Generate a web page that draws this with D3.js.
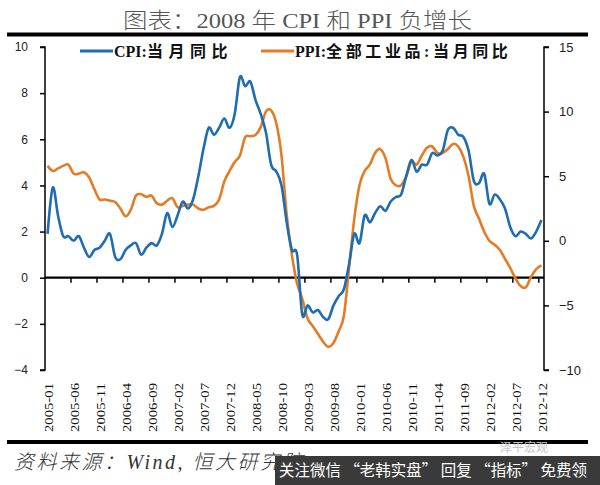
<!DOCTYPE html>
<html>
<head>
<meta charset="utf-8">
<script src="https://cdn.jsdelivr.net/npm/d3@7/dist/d3.min.js"></script>
<style>
  body { margin: 0; background: #fff; }
  svg { display: block; }
</style>
</head>
<body>
<svg width="600" height="485"></svg>
<script>
// categories: monthly 2005-01 .. 2012-12
var years = [2005, 2006, 2007, 2008, 2009, 2010, 2011, 2012];
var months = [];
years.forEach(function(y) {
    for (var m = 1; m <= 12; m++) months.push(y + '-' + (m < 10 ? '0' + m : m));
});

// CPI:当月同比 (left axis, %)
var cpi = [
    1.9, 3.9, 2.7, 1.8, 1.8, 1.6, 1.8, 1.3, 0.9, 1.2, 1.3, 1.6,
    1.9, 0.9, 0.8, 1.2, 1.4, 1.5, 1.0, 1.3, 1.5, 1.4, 1.9, 2.8,
    2.2, 2.7, 3.3, 3.0, 3.4, 4.4, 5.6, 6.5, 6.2, 6.5, 6.9, 6.5,
    7.1, 8.7, 8.3, 8.5, 7.7, 7.1, 6.3, 4.9, 4.6, 4.0, 2.4, 1.2,
    1.0, -1.6, -1.2, -1.5, -1.4, -1.7, -1.8, -1.2, -0.8, -0.5, 0.6, 1.9,
    1.5, 2.7, 2.4, 2.8, 3.1, 2.9, 3.3, 3.5, 3.6, 4.4, 5.1, 4.6,
    4.9, 4.9, 5.4, 5.3, 5.5, 6.4, 6.5, 6.2, 6.1, 5.5, 4.2, 4.1,
    4.5, 3.2, 3.6, 3.4, 3.0, 2.2, 1.8, 2.0, 1.9, 1.7, 2.0, 2.5
];

// PPI:全部工业品:当月同比 (right axis, %)
var ppi = [
    5.8, 5.4, 5.6, 5.8, 5.9, 5.2, 5.2, 5.3, 4.9, 4.0, 3.2, 3.2,
    3.1, 3.0, 2.5, 1.9, 2.4, 3.5, 3.6, 3.4, 3.5, 2.9, 2.8, 3.1,
    3.3, 2.6, 2.7, 2.8, 2.8, 2.5, 2.4, 2.6, 2.7, 3.2, 4.6, 5.4,
    6.1, 6.6, 8.0, 8.1, 8.2, 8.8, 10.0, 10.1, 9.1, 6.6, 2.0, -1.1,
    -3.3, -4.5, -6.0, -6.6, -7.2, -7.8, -8.2, -7.9, -7.0, -5.8, -2.1, 1.7,
    4.3, 5.4, 5.9, 6.8, 7.1, 6.4, 4.8, 4.3, 4.3, 5.0, 6.1, 5.9,
    6.6, 7.2, 7.3, 6.8, 6.8, 7.1, 7.5, 7.3, 6.5, 5.0, 2.7, 1.7,
    0.7, 0.0, -0.3, -0.7, -1.4, -2.1, -2.9, -3.5, -3.6, -2.8, -2.2, -1.9
];

var leftTicks = [-4, -2, 0, 2, 4, 6, 8, 10];
var rightTicks = [-10, -5, 0, 5, 10, 15];

var svg = d3.select('svg');
var svgWidth = +svg.attr('width');
var svgHeight = +svg.attr('height');

var plot = {l: 45, r: 544, t: 47, b: 370};
var cpiColor = '#1f6db0';
var ppiColor = '#e47b25';

svg.append('rect')
    .attr('width', svgWidth)
    .attr('height', svgHeight)
    .attr('fill', '#fff');

// title + rules
svg.append('text')
    .attr('x', 123)
    .attr('y', 28)
    .attr('textLength', 349)
    .attr('lengthAdjust', 'spacingAndGlyphs')
    .style('font-family', '"Liberation Serif", "Noto Sans CJK SC", serif')
    .style('font-weight', 300)
    .style('font-size', '22px')
    .style('fill', '#555')
    .text('图表：2008 年 CPI 和 PPI 负增长');

svg.append('line')
    .attr('x1', 7).attr('x2', 588)
    .attr('y1', 34.5).attr('y2', 34.5)
    .attr('stroke', '#000').attr('stroke-width', 4);

svg.append('line')
    .attr('x1', 7).attr('x2', 588)
    .attr('y1', 442).attr('y2', 442)
    .attr('stroke', '#000').attr('stroke-width', 4);

// scales
var xScale = d3.scaleBand()
    .domain(months)
    .range([plot.l, plot.r]);

var yLeft = d3.scaleLinear()
    .domain([-4, 10])
    .range([plot.b, plot.t]);

var yRight = d3.scaleLinear()
    .domain([-10, 15])
    .range([plot.b, plot.t]);

function xCenter(i) {
    return xScale(months[i]) + xScale.bandwidth() / 2;
}

// left axis
var leftAxis = d3.axisLeft(yLeft)
    .tickValues(leftTicks)
    .tickSize(5)
    .tickPadding(12)
    .tickFormat(d3.format('d'));

var gl = svg.append('g')
    .attr('transform', 'translate(' + plot.l + ',0)')
    .call(leftAxis);
gl.select('.domain').attr('stroke', '#000').attr('stroke-width', 1.5)
    .attr('d', 'M-5,' + plot.t + 'H0V' + plot.b + 'H-5');
gl.selectAll('.tick line').attr('stroke', '#000').attr('stroke-width', 1.5);
gl.selectAll('.tick text')
    .style('font-family', '"Liberation Sans", Arial, sans-serif')
    .style('font-size', '12px')
    .style('fill', '#222');

// right axis
var rightAxis = d3.axisRight(yRight)
    .tickValues(rightTicks)
    .tickSize(5)
    .tickPadding(10)
    .tickFormat(d3.format('d'));

var gr = svg.append('g')
    .attr('transform', 'translate(' + plot.r + ',0)')
    .call(rightAxis);
gr.select('.domain').attr('stroke', '#000').attr('stroke-width', 1.5)
    .attr('d', 'M5,' + plot.t + 'H0V' + plot.b + 'H5');
gr.selectAll('.tick line').attr('stroke', '#000').attr('stroke-width', 1.5);
gr.selectAll('.tick text')
    .style('font-family', '"Liberation Sans", Arial, sans-serif')
    .style('font-size', '13px')
    .style('fill', '#222');

// zero line with category tick marks every 5 months
var zeroY = yLeft(0);
svg.append('line')
    .attr('x1', plot.l).attr('x2', plot.r)
    .attr('y1', zeroY).attr('y2', zeroY)
    .attr('stroke', '#000').attr('stroke-width', 2.2);

var tickIdx = d3.range(5, months.length, 5);
svg.selectAll('.xtick')
    .data(tickIdx)
    .enter()
    .append('line')
    .attr('class', 'xtick')
    .attr('x1', function(i) { return xScale(months[i]); })
    .attr('x2', function(i) { return xScale(months[i]); })
    .attr('y1', zeroY)
    .attr('y2', zeroY + 5)
    .attr('stroke', '#000')
    .attr('stroke-width', 1.5);

// month labels at the bottom
var labelIdx = d3.range(0, months.length, 5);
svg.selectAll('.xlabel')
    .data(labelIdx)
    .enter()
    .append('text')
    .attr('class', 'xlabel')
    .attr('transform', function(i) {
        return 'translate(' + (xCenter(i) + 1) + ',383) rotate(-90)';
    })
    .attr('text-anchor', 'end')
    .attr('dy', '0.35em')
    .attr('textLength', 49)
    .attr('lengthAdjust', 'spacingAndGlyphs')
    .style('font-family', '"Liberation Serif", serif')
    .style('font-size', '13px')
    .style('fill', '#111')
    .text(function(i) { return months[i]; });

// series
var cpiLine = d3.line()
    .x(function(d, i) { return xCenter(i); })
    .y(function(d) { return yLeft(d); })
    .curve(d3.curveCardinal.tension(0));

var ppiLine = d3.line()
    .x(function(d, i) { return xCenter(i); })
    .y(function(d) { return yRight(d); })
    .curve(d3.curveCardinal.tension(0));

svg.append('path')
    .datum(ppi)
    .attr('d', ppiLine)
    .attr('fill', 'none')
    .attr('stroke', ppiColor)
    .attr('stroke-width', 2.6);

svg.append('path')
    .datum(cpi)
    .attr('d', cpiLine)
    .attr('fill', 'none')
    .attr('stroke', cpiColor)
    .attr('stroke-width', 2.6);

// legend
var legend = [
    {head: 'CPI:', rest: '当月同比', color: cpiColor, x: 80, gap: 5.5},
    {head: 'PPI:', rest: '全部工业品:当月同比', color: ppiColor, x: 261, gap: 3.6}
];
var legG = svg.selectAll('.legend')
    .data(legend)
    .enter()
    .append('g')
    .attr('class', 'legend')
    .attr('transform', function(d) { return 'translate(' + d.x + ',51)'; });
legG.append('line')
    .attr('x1', 0).attr('x2', 33)
    .attr('stroke', function(d) { return d.color; })
    .attr('stroke-width', 3);
var legText = legG.append('text')
    .attr('x', 34)
    .attr('dy', '0.36em')
    .style('font-family', '"Liberation Serif", "Noto Sans CJK SC", serif')
    .style('font-weight', 'bold')
    .style('font-size', '16px')
    .style('fill', '#111');
legText.append('tspan')
    .text(function(d) { return d.head; });
legText.append('tspan')
    .style('letter-spacing', function(d) { return d.gap + 'px'; })
    .text(function(d) { return d.rest; });

// source note (partly hidden by the banner, as in the original)
svg.append('text')
    .attr('x', 14)
    .attr('y', 469)
    .style('font-family', '"Liberation Serif", "Noto Sans CJK SC", serif')
    .style('font-style', 'italic')
    .style('font-weight', 300)
    .style('font-size', '20px')
    .style('letter-spacing', '2.5px')
    .style('fill', '#333')
    .text('资料来源：Wind, 恒大研究院');

svg.append('text')
    .attr('x', 500)
    .attr('y', 452)
    .style('font-family', '"Noto Sans CJK SC", sans-serif')
    .style('font-size', '12px')
    .style('fill', '#c4c4c4')
    .text('泽平宏观');

// overlay banner
svg.append('rect')
    .attr('x', 275).attr('y', 456)
    .attr('width', 325).attr('height', 29)
    .attr('fill', '#3a3a3a');
svg.append('text')
    .attr('x', 279)
    .attr('y', 476)
    .attr('textLength', 308)
    .attr('lengthAdjust', 'spacingAndGlyphs')
    .style('font-family', '"Noto Sans CJK SC", sans-serif')
    .style('font-size', '16px')
    .style('fill', '#fff')
    .text('关注微信 “老韩实盘” 回复 “指标” 免费领');
</script>
</body>
</html>
